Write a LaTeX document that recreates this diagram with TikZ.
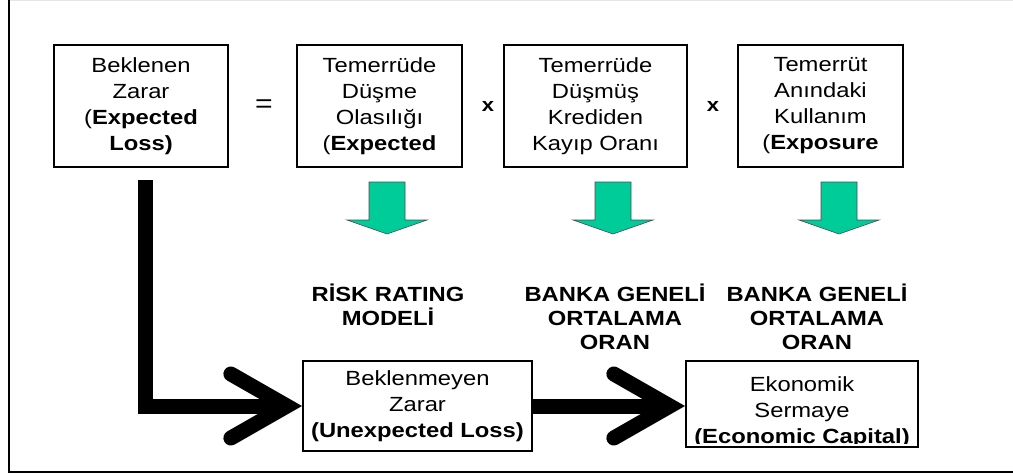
\documentclass[tikz,border=0pt]{standalone}
\usepackage{fontspec}
\setmainfont{Liberation Sans}[FakeStretch=1.16]
\usetikzlibrary{arrows.meta}

\definecolor{riskgreen}{HTML}{00CC99}

\tikzset{
  box/.style={draw, line width=2pt, align=center, inner sep=0pt,
    font=\fontsize{20.5}{26}\selectfont},
  lbl/.style={align=center, inner sep=0pt, font=\fontsize{20.5}{24}\selectfont\bfseries},
  greenarrow/.style={fill=riskgreen, draw=black!70, line width=0.6pt},
  bigarrow/.style={line width=15pt, line join=miter,
    -{Straight Barb[length=56pt, width=64pt, line cap=round]}}
}

\begin{document}
\begin{tikzpicture}[x=1pt, y=-1pt]
    \useasboundingbox (0,0) rectangle (1013,475);
    % frame
    \draw[black!10, line width=1pt] (9,0.5) -- (1013,0.5);
    \draw[line width=1.5pt] (9,0) -- (9,472) -- (1013,472);

    % top row
    \node[box, minimum width=174, minimum height=122] (el) at (141,106)
        {Beklenen\\Zarar\\(\textbf{Expected}\\\textbf{Loss)}};
    \node[box, minimum width=165, minimum height=122] (pd) at (379.5,106)
        {Temerrüde\\Düşme\\Olasılığı\\(\textbf{Expected}};
    \node[box, minimum width=183, minimum height=122] (lgd) at (595.5,106)
        {Temerrüde\\Düşmüş\\Krediden\\Kayıp Oranı};
    \node[box, minimum width=165, minimum height=122] (ead) at (820.5,106)
        {Temerrüt\\Anındaki\\Kullanım\\(\textbf{Exposure}};
    \node[font=\fontsize{26}{26}\selectfont] (eq) at (264,106) {=};
    \node[font=\fontsize{19}{19}\selectfont\bfseries] (times1) at (488,106) {x};
    \node[font=\fontsize{19}{19}\selectfont\bfseries] (times2) at (713,106) {x};

    % green arrows
    \foreach \x in {387,613,839}
        \draw[greenarrow] (\x-18,182) -- (\x+18,182) -- (\x+18,220) -- (\x+40,220)
            -- (\x,234) -- (\x-40,220) -- (\x-18,220) -- cycle;

    % labels
    \node[lbl] (rating) at (388,305) {RİSK RATING\\MODELİ};
    \node[lbl] (avg1) at (615,317) {BANKA GENELİ\\ORTALAMA\\ORAN};
    \node[lbl] (avg2) at (817,317) {BANKA GENELİ\\ORTALAMA\\ORAN};

    % bottom row
    \node[box, minimum width=229, minimum height=90] (ul) at (417.5,406)
        {Beklenmeyen\\Zarar\\\textbf{(Unexpected Loss)}};
    \node[box, minimum width=232, minimum height=86] (ec) at (802,404) {};
    \begin{scope}
        \clip (687,362) rectangle (917,443);
        \node[box, draw=none, anchor=north] (ectext) at (802,376)
            {Ekonomik\\Sermaye\\\textbf{(Economic Capital)}};
    \end{scope}

    % black arrows
    \coordinate (start) at (145.5,180);
    \draw[bigarrow] (start) |- (ul.west);
    \draw[bigarrow] (ul.east) -- (ul.east -| ec.west);
\end{tikzpicture}
\end{document}
